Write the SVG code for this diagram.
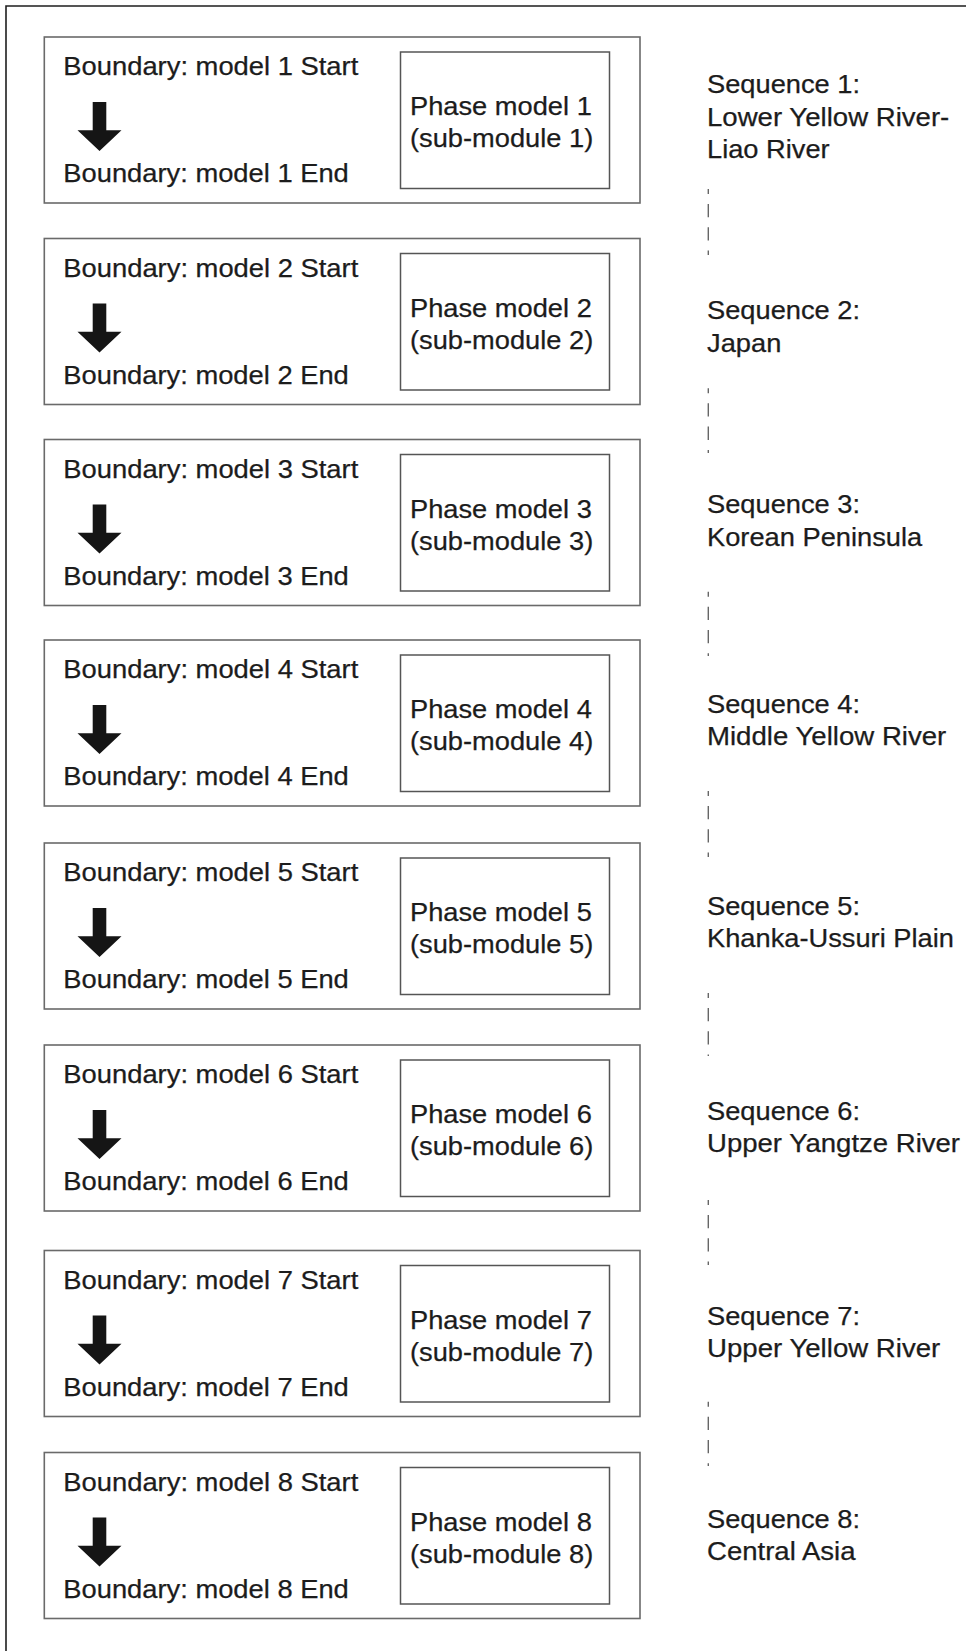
<svg xmlns="http://www.w3.org/2000/svg" width="966" height="1651" viewBox="0 0 966 1651">
<style>
  .t { font-family: "Liberation Sans", Arial, sans-serif; font-size: 25.5px; fill: #1c1c1c; stroke: #1c1c1c; stroke-width: 0.25; }
  .box { fill: #ffffff; stroke: #6a6a6a; stroke-width: 1.6; }
  .inner { fill: #ffffff; stroke: #555555; stroke-width: 1.5; }
  .frame { stroke: #1e1e1e; stroke-width: 1.6; fill: none; }
  .dash { stroke: #666666; stroke-width: 1.4; fill: none; stroke-dasharray: 13.3 10; stroke-dashoffset: 8.3; }
  .arrow { fill: #151515; }
</style>
<defs>
  <path id="dn" class="arrow" d="M-6.8,0 H6.8 V28.3 H22 L0,49 L-22,28.3 H-6.8 Z"/>
</defs>
<rect width="966" height="1651" fill="#ffffff"/>
<path class="frame" d="M6,1651 V6 H966"/>

<g id="module1">
  <rect class="box" x="44.3" y="37" width="595.7" height="166"/>
  <text class="t" x="63.3" y="75.3" textLength="295" lengthAdjust="spacingAndGlyphs">Boundary: model 1 Start</text>
  <use href="#dn" x="99.5" y="102"/>
  <text class="t" x="63.3" y="182" textLength="285.5" lengthAdjust="spacingAndGlyphs">Boundary: model 1 End</text>
  <rect class="inner" x="400.5" y="52" width="209" height="136.5"/>
  <text class="t" x="410" y="115.3" textLength="181.8" lengthAdjust="spacingAndGlyphs">Phase model 1</text>
  <text class="t" x="410" y="147" textLength="183.3" lengthAdjust="spacingAndGlyphs">(sub-module 1)</text>
</g>
<g id="module2">
  <rect class="box" x="44.3" y="238.5" width="595.7" height="166"/>
  <text class="t" x="63.3" y="276.8" textLength="295" lengthAdjust="spacingAndGlyphs">Boundary: model 2 Start</text>
  <use href="#dn" x="99.5" y="303.5"/>
  <text class="t" x="63.3" y="383.5" textLength="285.5" lengthAdjust="spacingAndGlyphs">Boundary: model 2 End</text>
  <rect class="inner" x="400.5" y="253.5" width="209" height="136.5"/>
  <text class="t" x="410" y="316.8" textLength="181.8" lengthAdjust="spacingAndGlyphs">Phase model 2</text>
  <text class="t" x="410" y="348.5" textLength="183.3" lengthAdjust="spacingAndGlyphs">(sub-module 2)</text>
</g>
<g id="module3">
  <rect class="box" x="44.3" y="439.5" width="595.7" height="166"/>
  <text class="t" x="63.3" y="477.8" textLength="295" lengthAdjust="spacingAndGlyphs">Boundary: model 3 Start</text>
  <use href="#dn" x="99.5" y="504.5"/>
  <text class="t" x="63.3" y="584.5" textLength="285.5" lengthAdjust="spacingAndGlyphs">Boundary: model 3 End</text>
  <rect class="inner" x="400.5" y="454.5" width="209" height="136.5"/>
  <text class="t" x="410" y="517.8" textLength="181.8" lengthAdjust="spacingAndGlyphs">Phase model 3</text>
  <text class="t" x="410" y="549.5" textLength="183.3" lengthAdjust="spacingAndGlyphs">(sub-module 3)</text>
</g>
<g id="module4">
  <rect class="box" x="44.3" y="640" width="595.7" height="166"/>
  <text class="t" x="63.3" y="678.3" textLength="295" lengthAdjust="spacingAndGlyphs">Boundary: model 4 Start</text>
  <use href="#dn" x="99.5" y="705"/>
  <text class="t" x="63.3" y="785" textLength="285.5" lengthAdjust="spacingAndGlyphs">Boundary: model 4 End</text>
  <rect class="inner" x="400.5" y="655" width="209" height="136.5"/>
  <text class="t" x="410" y="718.3" textLength="181.8" lengthAdjust="spacingAndGlyphs">Phase model 4</text>
  <text class="t" x="410" y="750" textLength="183.3" lengthAdjust="spacingAndGlyphs">(sub-module 4)</text>
</g>
<g id="module5">
  <rect class="box" x="44.3" y="843" width="595.7" height="166"/>
  <text class="t" x="63.3" y="881.3" textLength="295" lengthAdjust="spacingAndGlyphs">Boundary: model 5 Start</text>
  <use href="#dn" x="99.5" y="908"/>
  <text class="t" x="63.3" y="988" textLength="285.5" lengthAdjust="spacingAndGlyphs">Boundary: model 5 End</text>
  <rect class="inner" x="400.5" y="858" width="209" height="136.5"/>
  <text class="t" x="410" y="921.3" textLength="181.8" lengthAdjust="spacingAndGlyphs">Phase model 5</text>
  <text class="t" x="410" y="953" textLength="183.3" lengthAdjust="spacingAndGlyphs">(sub-module 5)</text>
</g>
<g id="module6">
  <rect class="box" x="44.3" y="1045" width="595.7" height="166"/>
  <text class="t" x="63.3" y="1083.3" textLength="295" lengthAdjust="spacingAndGlyphs">Boundary: model 6 Start</text>
  <use href="#dn" x="99.5" y="1110"/>
  <text class="t" x="63.3" y="1190" textLength="285.5" lengthAdjust="spacingAndGlyphs">Boundary: model 6 End</text>
  <rect class="inner" x="400.5" y="1060" width="209" height="136.5"/>
  <text class="t" x="410" y="1123.3" textLength="181.8" lengthAdjust="spacingAndGlyphs">Phase model 6</text>
  <text class="t" x="410" y="1155" textLength="183.3" lengthAdjust="spacingAndGlyphs">(sub-module 6)</text>
</g>
<g id="module7">
  <rect class="box" x="44.3" y="1250.5" width="595.7" height="166"/>
  <text class="t" x="63.3" y="1288.8" textLength="295" lengthAdjust="spacingAndGlyphs">Boundary: model 7 Start</text>
  <use href="#dn" x="99.5" y="1315.5"/>
  <text class="t" x="63.3" y="1395.5" textLength="285.5" lengthAdjust="spacingAndGlyphs">Boundary: model 7 End</text>
  <rect class="inner" x="400.5" y="1265.5" width="209" height="136.5"/>
  <text class="t" x="410" y="1328.8" textLength="181.8" lengthAdjust="spacingAndGlyphs">Phase model 7</text>
  <text class="t" x="410" y="1360.5" textLength="183.3" lengthAdjust="spacingAndGlyphs">(sub-module 7)</text>
</g>
<g id="module8">
  <rect class="box" x="44.3" y="1452.5" width="595.7" height="166"/>
  <text class="t" x="63.3" y="1490.8" textLength="295" lengthAdjust="spacingAndGlyphs">Boundary: model 8 Start</text>
  <use href="#dn" x="99.5" y="1517.5"/>
  <text class="t" x="63.3" y="1597.5" textLength="285.5" lengthAdjust="spacingAndGlyphs">Boundary: model 8 End</text>
  <rect class="inner" x="400.5" y="1467.5" width="209" height="136.5"/>
  <text class="t" x="410" y="1530.8" textLength="181.8" lengthAdjust="spacingAndGlyphs">Phase model 8</text>
  <text class="t" x="410" y="1562.5" textLength="183.3" lengthAdjust="spacingAndGlyphs">(sub-module 8)</text>
</g>

<g id="seq1">
  <text class="t" x="707" y="93.3" textLength="153.1" lengthAdjust="spacingAndGlyphs">Sequence 1:</text>
  <text class="t" x="707" y="125.5" textLength="242.3" lengthAdjust="spacingAndGlyphs">Lower Yellow River-</text>
  <text class="t" x="707" y="158.3" textLength="122.7" lengthAdjust="spacingAndGlyphs">Liao River</text>
</g>
<g id="seq2">
  <text class="t" x="707" y="319.3" textLength="153.1" lengthAdjust="spacingAndGlyphs">Sequence 2:</text>
  <text class="t" x="707" y="351.7" textLength="74.3" lengthAdjust="spacingAndGlyphs">Japan</text>
</g>
<g id="seq3">
  <text class="t" x="707" y="513.3" textLength="153.1" lengthAdjust="spacingAndGlyphs">Sequence 3:</text>
  <text class="t" x="707" y="546" textLength="215.2" lengthAdjust="spacingAndGlyphs">Korean Peninsula</text>
</g>
<g id="seq4">
  <text class="t" x="707" y="712.7" textLength="153.1" lengthAdjust="spacingAndGlyphs">Sequence 4:</text>
  <text class="t" x="707" y="744.5" textLength="239.3" lengthAdjust="spacingAndGlyphs">Middle Yellow River</text>
</g>
<g id="seq5">
  <text class="t" x="707" y="915" textLength="153.1" lengthAdjust="spacingAndGlyphs">Sequence 5:</text>
  <text class="t" x="707" y="947.3" textLength="246.9" lengthAdjust="spacingAndGlyphs">Khanka-Ussuri Plain</text>
</g>
<g id="seq6">
  <text class="t" x="707" y="1120" textLength="153.1" lengthAdjust="spacingAndGlyphs">Sequence 6:</text>
  <text class="t" x="707" y="1151.7" textLength="253" lengthAdjust="spacingAndGlyphs">Upper Yangtze River</text>
</g>
<g id="seq7">
  <text class="t" x="707" y="1325" textLength="153.1" lengthAdjust="spacingAndGlyphs">Sequence 7:</text>
  <text class="t" x="707" y="1357" textLength="233.3" lengthAdjust="spacingAndGlyphs">Upper Yellow River</text>
</g>
<g id="seq8">
  <text class="t" x="707" y="1527.7" textLength="153.1" lengthAdjust="spacingAndGlyphs">Sequence 8:</text>
  <text class="t" x="707" y="1560" textLength="148.5" lengthAdjust="spacingAndGlyphs">Central Asia</text>
</g>

<g id="connectors">
  <line class="dash" x1="708.3" y1="189" x2="708.3" y2="255"/>
  <line class="dash" x1="708.3" y1="388.3" x2="708.3" y2="453"/>
  <line class="dash" x1="708.3" y1="591.7" x2="708.3" y2="656"/>
  <line class="dash" x1="708.3" y1="791" x2="708.3" y2="857"/>
  <line class="dash" x1="708.3" y1="993" x2="708.3" y2="1056"/>
  <line class="dash" x1="708.3" y1="1200" x2="708.3" y2="1265"/>
  <line class="dash" x1="708.3" y1="1401.7" x2="708.3" y2="1466"/>
</g>
</svg>
